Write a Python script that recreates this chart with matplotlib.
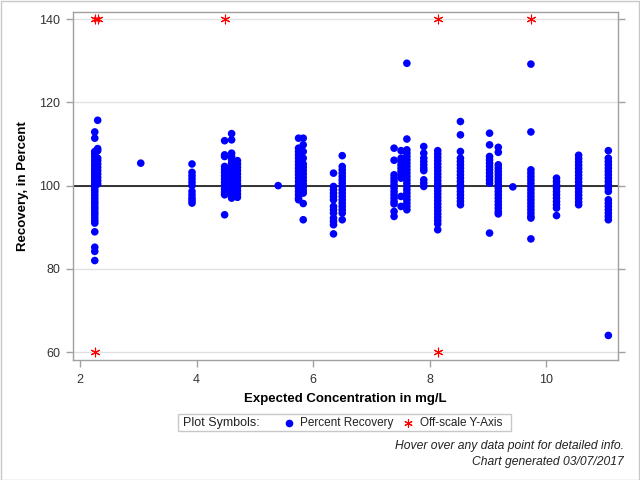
#!/usr/bin/env python
#  -*- coding: utf-8 -*-

import matplotlib
matplotlib.use('Agg')
import matplotlib.pyplot as plt
from matplotlib.patches import Rectangle
from matplotlib.lines import Line2D

# Expected concentration of each sample group, mg/L
conc_groups = [2.25, 2.30, 3.04, 3.92, 4.48, 4.60, 4.70, 5.40, 5.75, 5.83, 6.35, 6.50,
               7.39, 7.51, 7.61, 7.90, 8.14, 8.53, 9.03, 9.18, 9.43, 9.74, 10.18, 10.56, 11.07]

# Percent recovery of each point in the groups above
recovery_groups = [
    [112.9, 111.4, 108.2, 107.6, 106.9, 106.1, 105.4, 104.8, 104.1, 103.5, 102.8, 102.2, 101.6, 100.9,
     100.3, 99.6, 98.9, 98.3, 97.6, 96.9, 96.2, 95.6, 94.9, 94.3, 93.6, 93.0, 92.3, 91.6, 91.0, 88.9,
     85.2, 84.2, 82.0],
    [115.7, 108.9, 108.4, 106.6, 106.0, 105.2, 104.4, 103.6, 102.8, 102.0, 101.2, 100.4],
    [105.4],
    [105.2, 103.2, 102.4, 101.6, 100.8, 100.0, 98.6, 97.8, 97.0, 96.4, 95.8],
    [110.8, 107.4, 107.0, 104.6, 103.9, 103.2, 102.4, 101.6, 100.8, 100.0, 99.2, 98.4, 97.8, 93.0],
    [112.5, 111.0, 107.8, 107.0, 106.2, 105.4, 104.6, 103.8, 103.0, 102.2, 101.4, 100.6, 99.8, 99.0,
     98.2, 97.4, 97.0],
    [106.0, 105.2, 104.4, 103.6, 102.8, 102.0, 101.2, 100.4, 99.6, 98.8, 98.0, 97.2],
    [100.0],
    [111.4, 109.0, 108.2, 107.4, 106.6, 105.8, 105.0, 104.2, 103.4, 102.6, 101.8, 101.0, 100.2, 99.4,
     98.6, 97.8, 97.0, 96.6],
    [111.4, 109.8, 108.2, 106.6, 105.2, 104.4, 103.6, 102.8, 102.0, 101.2, 100.4, 99.6, 98.8, 98.2,
     95.7, 91.8],
    [103.0, 99.8, 99.0, 98.2, 97.4, 96.6, 95.0, 94.2, 93.4, 92.2, 91.4, 90.6, 88.4],
    [107.2, 104.6, 103.8, 103.0, 102.2, 101.4, 100.6, 99.8, 99.0, 98.2, 97.4, 96.6, 95.8, 95.0, 94.2,
     93.4, 91.8],
    [109.0, 106.1, 102.6, 101.8, 101.0, 100.2, 99.4, 98.6, 97.8, 97.0, 96.2, 95.6, 93.8, 92.6],
    [108.4, 106.6, 105.8, 105.0, 104.2, 103.4, 102.6, 101.8, 97.4, 95.0],
    [129.4, 111.2, 108.6, 107.8, 107.0, 106.2, 105.4, 104.6, 103.8, 103.0, 102.2, 101.4, 100.6, 99.8,
     99.0, 98.2, 97.4, 96.6, 95.8, 95.0, 94.2],
    [109.4, 107.8, 106.6, 105.8, 105.0, 104.2, 103.6, 101.4, 100.6, 99.8],
    [108.4, 107.6, 106.8, 106.0, 105.2, 104.4, 103.6, 102.8, 102.0, 101.2, 100.4, 99.6, 98.8, 98.0,
     97.2, 96.4, 95.6, 94.8, 94.0, 93.2, 92.4, 91.6, 90.8, 89.4],
    [115.4, 112.2, 108.2, 106.6, 105.8, 105.0, 104.2, 103.4, 102.6, 101.8, 101.0, 100.2, 99.4, 98.6,
     97.8, 97.0, 96.2, 95.4],
    [112.6, 109.8, 107.0, 106.2, 105.4, 104.6, 103.8, 103.0, 102.2, 101.4, 100.6, 88.6],
    [109.2, 108.0, 105.0, 104.2, 103.4, 102.6, 101.8, 101.0, 100.2, 99.4, 98.6, 97.8, 97.0, 96.2, 95.4,
     94.6, 93.8, 93.2],
    [99.7],
    [129.2, 112.9, 103.8, 103.0, 102.2, 101.4, 100.6, 99.8, 99.0, 98.2, 97.4, 96.6, 95.8, 95.0, 94.2,
     93.4, 92.6, 92.2, 87.2],
    [101.8, 101.0, 100.2, 99.4, 98.6, 97.8, 97.0, 96.2, 95.4, 94.6, 92.8],
    [107.3, 106.5, 105.7, 104.9, 104.1, 103.3, 102.5, 101.7, 100.9, 100.1, 99.3, 98.5, 97.7, 96.9,
     96.1, 95.4],
    [108.4, 106.6, 105.8, 105.0, 104.2, 103.4, 102.6, 101.8, 101.0, 100.2, 99.4, 98.6, 96.6, 95.8,
     95.0, 94.2, 93.4, 92.6, 91.8, 64.0],
]

# Points beyond the y-axis range, drawn at the axis limit
offscale_conc = [2.25, 2.30, 4.48, 8.14, 9.74, 2.25, 8.14]
offscale_rec = [140, 140, 140, 140, 140, 60, 60]

x_ticks = [2, 4, 6, 8, 10]
y_ticks = [60, 80, 100, 120, 140]

narrow = ['Liberation Sans Narrow', 'Liberation Sans', 'DejaVu Sans']
wide = ['Liberation Sans', 'DejaVu Sans']
frame_gray = '#a0a0a0'

x_all = []
y_all = []
for c, recs in zip(conc_groups, recovery_groups):
    for r in recs:
        x_all.append(c)
        y_all.append(r)

fig = plt.figure(figsize=(6.4, 4.8), dpi=100)
ax = fig.add_axes([0.1135, 0.25, 0.8525, 0.7257])

ax.axhline(100, color='black', linewidth=1.1, zorder=2)
ax.scatter(x_all, y_all, s=30, color='#0000ff', edgecolors='none', zorder=3)
ax.scatter(offscale_conc, offscale_rec, s=40, marker=(6, 2, 0), color='#ff0000',
           linewidths=0.8, zorder=4)

ax.set_xlim(1.87, 11.24)
ax.set_ylim(58.1, 141.8)
ax.set_xticks(x_ticks)
ax.set_yticks(y_ticks)
ax.yaxis.grid(True, color='#e1e1e1', linewidth=1.0)
ax.set_axisbelow(True)

for s in ax.spines.values():
    s.set_color(frame_gray)
    s.set_linewidth(1.0)

ax.tick_params(axis='both', direction='out', length=5, width=1, color=frame_gray,
               labelsize=9, labelcolor='#333333')
ax.tick_params(axis='y', right=True, pad=4)
ax.tick_params(axis='x', pad=5)
for lab in ax.get_xticklabels() + ax.get_yticklabels():
    lab.set_family(narrow)

ax.set_xlabel('Expected Concentration in mg/L', family=narrow, fontweight='bold',
              fontsize=9.5, labelpad=5)
ax.set_ylabel('Recovery, in Percent', family=wide, fontweight='bold', fontsize=9.5,
              labelpad=7)

# Legend box
fig.add_artist(Rectangle((178 / 640, 1 - 431 / 480), 333 / 640, 17 / 480,
                         transform=fig.transFigure, facecolor='white',
                         edgecolor='#c8c8c8', linewidth=1.0))
leg_base = 1 - 426 / 480
leg_mid = 1 - 422.5 / 480
fig.text(183 / 640, leg_base, 'Plot Symbols:', family=narrow, fontsize=9,
         va='baseline', ha='left', color='#222222')
fig.add_artist(Line2D([288.6 / 640], [leg_mid], transform=fig.transFigure, marker='o',
                      markersize=5.5, color='#0000ff', markeredgewidth=0, linestyle='none'))
fig.text(299.6 / 640, leg_base, 'Percent Recovery', family=narrow, fontsize=8.5,
         va='baseline', ha='left', color='#222222')
fig.add_artist(Line2D([407.8 / 640], [leg_mid], transform=fig.transFigure, marker=(6, 2, 0),
                      markersize=6, color='#ff0000', markeredgewidth=0.8, linestyle='none'))
fig.text(419.6 / 640, leg_base, 'Off-scale Y-Axis', family=narrow, fontsize=8.5,
         va='baseline', ha='left', color='#222222')

# Footnotes
fig.text(624 / 640, 1 - 446.5 / 480, 'Hover over any data point for detailed info.',
         family=narrow, style='italic', fontsize=8.7, ha='right', va='center', color='#222222')
fig.text(624 / 640, 1 - 462.5 / 480, 'Chart generated 03/07/2017',
         family=narrow, style='italic', fontsize=8.7, ha='right', va='center', color='#222222')

# Outer border
fig.add_artist(Rectangle((0.5 / 640, 0.5 / 480), 638 / 640, 478.5 / 480,
                         transform=fig.transFigure, facecolor='none',
                         edgecolor='#c8c8c8', linewidth=1.0))

fig.savefig('out.png', dpi=100)
